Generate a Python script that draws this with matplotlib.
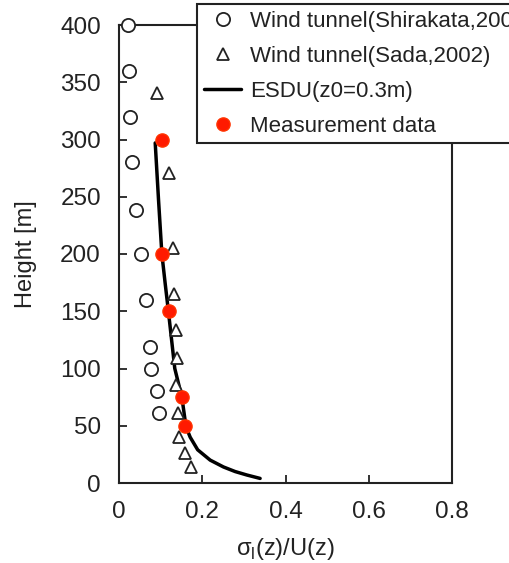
import numpy as np
import matplotlib
matplotlib.use("Agg")
from matplotlib import pyplot as plt

plt.rcParams['font.family'] = ['Liberation Sans', 'DejaVu Sans']
plt.rcParams['mathtext.fontset'] = 'custom'
plt.rcParams['mathtext.rm'] = 'Liberation Sans'

# Wind tunnel (Shirakata)
shira_x = [0.022, 0.025, 0.026, 0.032, 0.041, 0.052, 0.065, 0.075, 0.077, 0.091, 0.095]
shira_z = [400, 360, 320, 280, 238, 200, 160, 119, 100, 80, 61]

# Wind tunnel (Sada, 2002)
sada_x = [0.091, 0.120, 0.130, 0.132, 0.137, 0.139, 0.137, 0.142, 0.144, 0.159, 0.173]
sada_z = [341, 271, 205, 165, 134, 109, 86, 61, 40, 26, 14]

# ESDU (z0=0.3m)
esdu_x = [0.087, 0.095, 0.103, 0.111, 0.119, 0.134, 0.151, 0.161, 0.171, 0.189,
          0.219, 0.251, 0.279, 0.307, 0.339]
esdu_z = [297, 247, 200, 174, 149, 100, 75, 49, 40, 29, 20, 14, 10, 7, 4]

# Measurement data
meas_x = [0.103, 0.103, 0.119, 0.151, 0.159]
meas_z = [300, 200, 150, 75, 50]

fig = plt.figure(figsize=(5.09, 5.63), dpi=100)
ax = fig.add_axes([119/509, 1 - 483/563, (452-119)/509, (483-25)/563])

ax.plot(shira_x, shira_z, 'o', mfc='white', mec='#222222', mew=1.3, ms=9.5,
        label='Wind tunnel(Shirakata,2000)', clip_on=False, zorder=3)
ax.plot(sada_x, sada_z, '^', mfc='white', mec='#222222', mew=1.3, ms=8,
        label='Wind tunnel(Sada,2002)', zorder=3)
ax.plot(esdu_x, esdu_z, '-', color='black', lw=2.5, label='ESDU(z0=0.3m)',
        solid_capstyle='round', solid_joinstyle='round', zorder=2)
ax.plot(meas_x, meas_z, 'o', color='#ff1a00', mec='#ff3300', ms=9.5,
        label='Measurement data', zorder=4)

ax.set_xlim(0, 0.8)
ax.set_ylim(0, 400)
ax.set_xticks([0, 0.2, 0.4, 0.6, 0.8])
ax.set_xticklabels(['0', '0.2', '0.4', '0.6', '0.8'])
ax.set_yticks(np.arange(0, 401, 50))
ax.tick_params(direction='in', length=6, width=1.3, labelsize=17.5, pad=13,
               colors='#222222', labelcolor='#222222')
for s in ax.spines.values():
    s.set_linewidth(1.5)
    s.set_color('#222222')

ax.set_xlabel(r'σ$_\mathregular{l}$(z)/U(z)', fontsize=17, color='#222222', labelpad=9)
ax.set_ylabel('Height [m]', fontsize=17, color='#222222', labelpad=17)

leg = fig.legend(loc='upper left', bbox_to_anchor=(197/509, 1 - 4/563), fontsize=16,
                 frameon=True, fancybox=False, edgecolor='#222222', framealpha=1,
                 handlelength=1.7, handletextpad=0.4, labelspacing=0.63,
                 borderpad=0.3, borderaxespad=0)
leg.get_frame().set_linewidth(1.5)
for t in leg.get_texts():
    t.set_color('#222222')

plt.savefig('out.png', dpi=100)
